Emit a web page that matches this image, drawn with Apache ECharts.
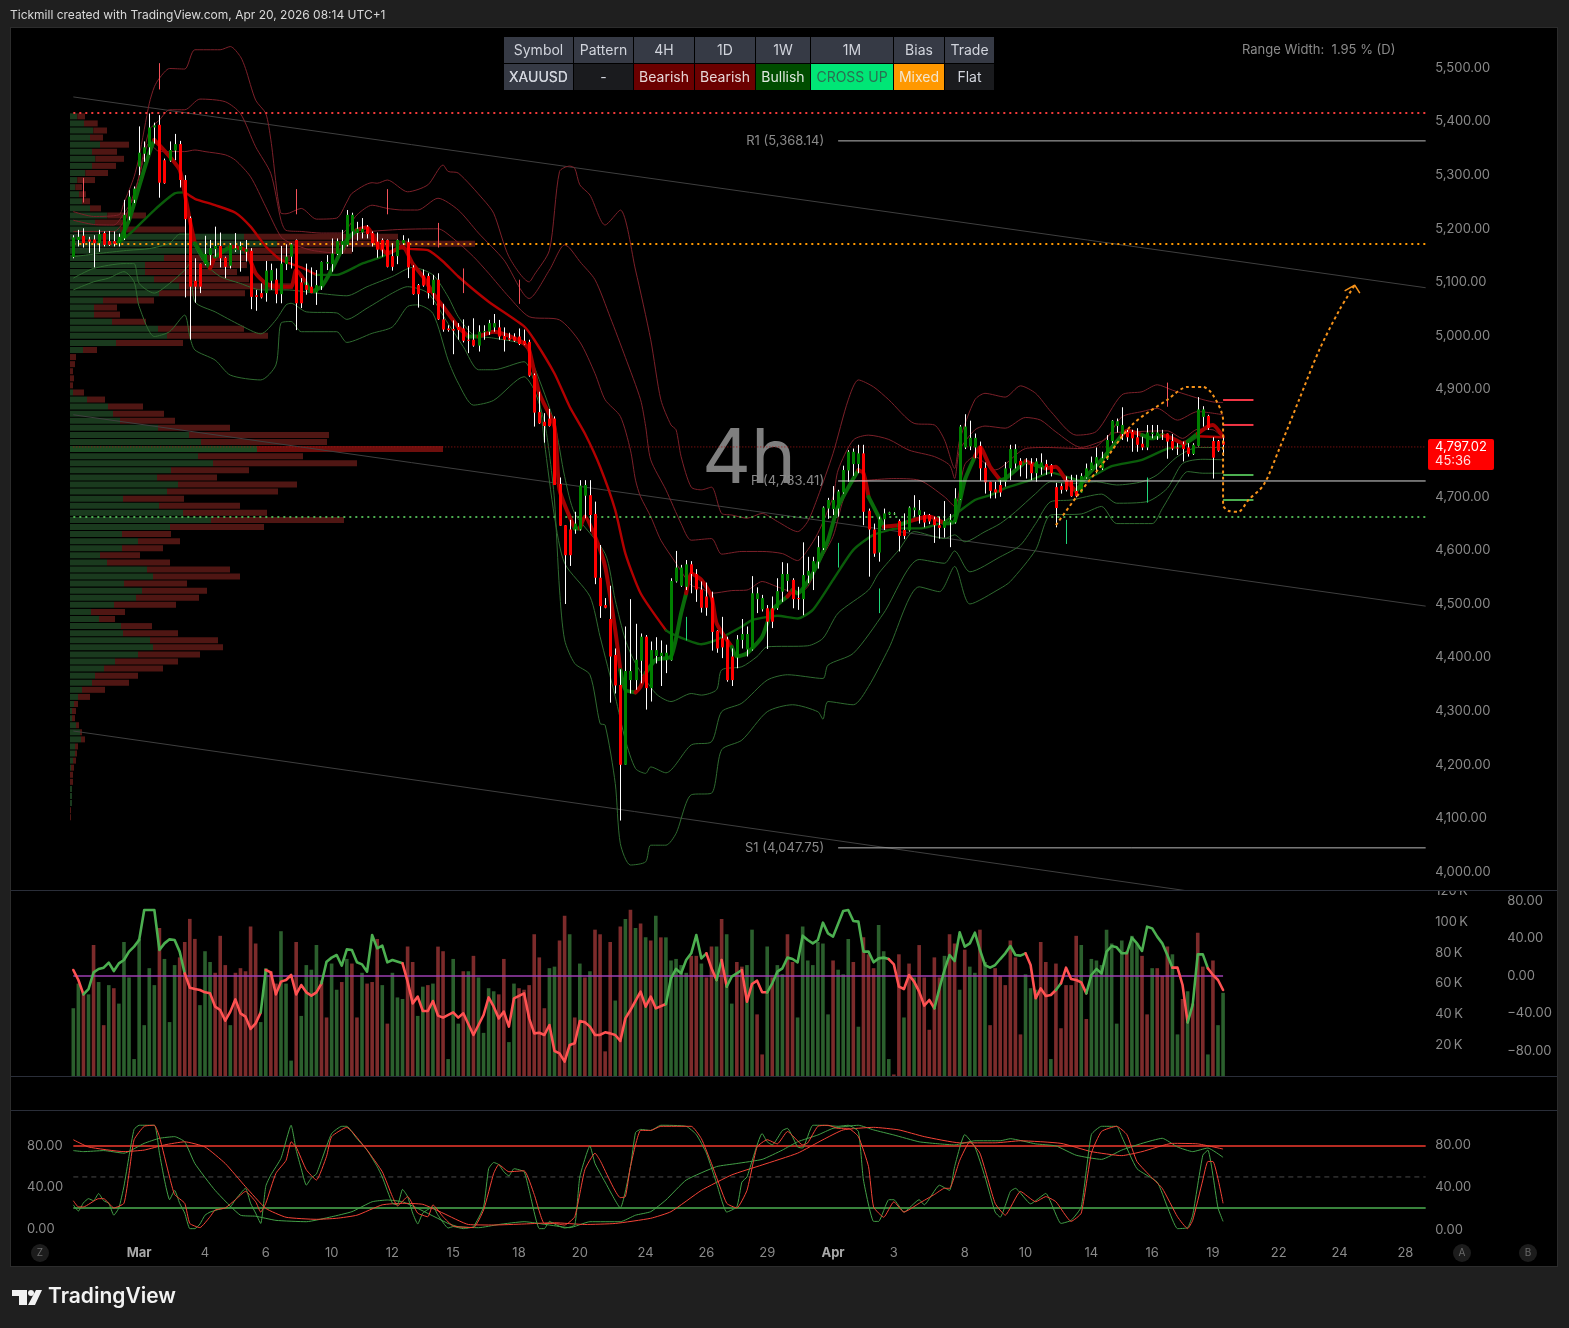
<!DOCTYPE html>
<html><head><meta charset="utf-8"><title>XAUUSD 4h</title>
<style>html,body{margin:0;padding:0;background:#1f1f1f}#c{width:1569px;height:1328px}</style>
<script src="https://cdn.jsdelivr.net/npm/echarts@6/dist/echarts.min.js"></script></head>
<body><div id="c"></div>
<script>
// ---------- candles (4h bars, oldest first) ----------
const opens=[5147,5179,5187,5180,5180,5173,5192,5177,5177,5173,
5182,5223,5254,5316,5340,5352,5389,5394,5328,5327,
5346,5358,5291,5220,5103,5135,5134,5151,5162,5168,
5146,5131,5160,5160,5157,5159,5076,5080,5080,5103,
5105,5078,5134,5148,5179,5100,5095,5092,5081,5093,
5135,5134,5153,5170,5170,5195,5192,5193,5204,5192,
5176,5179,5179,5149,5149,5173,5175,5128,5095,5113,
5112,5080,5105,5031,5014,5013,5017,5014,4993,4993,
4982,5007,5008,5016,5016,5000,4996,4999,4999,4991,
4989,4927,4858,4840,4846,4846,4724,4647,4639,4639,
4639,4702,4703,4668,4549,4498,4472,4405,4349,4200,
4358,4358,4394,4439,4343,4403,4403,4395,4395,4542,
4534,4532,4574,4556,4527,4514,4512,4450,4436,4434,
4402,4400,4433,4415,4415,4509,4490,4492,4492,4492,
4523,4543,4545,4511,4509,4553,4560,4579,4604,4678,
4677,4678,4708,4749,4761,4761,4781,4674,4639,4596,
4658,4667,4668,4655,4638,4637,4675,4666,4666,4666,
4658,4647,4642,4652,4652,4695,4792,4794,4792,4795,
4754,4728,4714,4722,4728,4753,4762,4767,4762,4762,
4744,4755,4761,4759,4718,4720,4731,4731,4711,4708,
4736,4751,4762,4753,4770,4804,4832,4817,4821,4821,
4811,4799,4792,4817,4813,4816,4818,4804,4792,4798,
4792,4780,4795,4849,4851,4804,4804,4803];
const closes=[5184,5185,5173,5176,5173,5190,5170,5170,5172,5185,
5226,5260,5275,5342,5352,5389,5393,5286,5285,5347,
5358,5291,5218,5092,5092,5092,5153,5164,5168,5145,
5129,5170,5164,5168,5162,5073,5073,5072,5122,5123,
5078,5135,5148,5171,5061,5061,5086,5080,5095,5138,
5138,5154,5177,5177,5226,5226,5200,5200,5190,5173,
5161,5161,5129,5129,5179,5179,5128,5078,5078,5094,
5080,5105,5031,5012,5011,5010,5011,4991,4991,4982,
5008,5009,5024,5024,4999,4993,4993,4991,4985,4984,
4926,4857,4837,4832,4832,4722,4646,4591,4591,4650,
4721,4722,4666,4549,4496,4493,4402,4348,4200,4375,
4375,4396,4439,4343,4414,4414,4409,4409,4543,4568,
4568,4574,4556,4527,4493,4493,4448,4417,4419,4358,
4358,4434,4444,4444,4520,4520,4511,4467,4467,4524,
4556,4556,4509,4509,4554,4562,4580,4606,4680,4694,
4694,4710,4750,4784,4784,4781,4672,4639,4594,4658,
4669,4671,4669,4627,4627,4680,4680,4675,4652,4654,
4647,4642,4655,4657,4697,4831,4831,4810,4810,4753,
4727,4711,4708,4708,4753,4789,4789,4759,4764,4744,
4766,4764,4755,4744,4679,4713,4713,4701,4701,4739,
4753,4764,4774,4772,4806,4842,4841,4834,4811,4809,
4797,4792,4820,4820,4820,4818,4803,4790,4790,4789,
4780,4797,4863,4863,4828,4773,4786,4797.02];
const highs=[5188,5198,5201,5185,5188,5198,5195,5196,5195,5191,
5254,5272,5279,5391,5363,5415,5398,5412,5331,5363,
5377,5364,5300,5223,5145,5135,5187,5179,5204,5193,
5148,5173,5192,5176,5179,5164,5086,5098,5140,5135,
5126,5168,5171,5173,5180,5108,5135,5128,5123,5139,
5151,5182,5182,5198,5235,5230,5213,5220,5207,5195,
5193,5182,5180,5173,5180,5188,5182,5132,5097,5124,
5117,5114,5117,5060,5020,5029,5024,5031,5019,5033,
5020,5020,5030,5041,5030,5016,5006,5005,5014,5012,
4993,4930,4896,4856,4864,4850,4736,4647,4657,4672,
4731,4731,4731,4691,4610,4511,4534,4417,4378,4458,
4509,4463,4445,4442,4430,4438,4432,4424,4548,4599,
4573,4582,4580,4565,4542,4540,4523,4451,4476,4439,
4417,4442,4472,4458,4552,4531,4517,4498,4514,4548,
4578,4576,4548,4532,4615,4588,4588,4627,4682,4698,
4720,4713,4758,4787,4790,4797,4797,4678,4650,4663,
4678,4672,4671,4658,4669,4682,4703,4694,4672,4668,
4663,4663,4692,4668,4716,4834,4854,4842,4818,4803,
4764,4728,4728,4731,4765,4797,4798,4772,4772,4772,
4772,4781,4769,4761,4726,4725,4738,4741,4741,4744,
4762,4775,4792,4784,4815,4843,4846,4867,4825,4825,
4828,4812,4834,4834,4834,4825,4818,4817,4800,4803,
4800,4800,4886,4869,4853,4811,4806,4811];
const lows=[5145,5167,5165,5155,5128,5157,5167,5168,5167,5167,
5179,5216,5248,5300,5325,5338,5359,5258,5284,5325,
5328,5277,5072,4993,5062,5080,5132,5132,5148,5128,
5108,5126,5157,5120,5139,5050,5047,5070,5064,5086,
5061,5061,5123,5126,5011,5052,5077,5080,5058,5086,
5123,5120,5151,5153,5167,5157,5178,5182,5182,5167,
5146,5148,5128,5122,5134,5170,5108,5077,5053,5092,
5070,5058,5030,5008,5008,4966,4993,4988,4968,4980,
4971,4993,5002,5008,4993,4971,4991,4989,4983,4983,
4924,4831,4836,4801,4831,4722,4646,4500,4571,4631,
4637,4660,4635,4537,4474,4492,4316,4333,4096,4200,
4333,4340,4352,4303,4318,4389,4347,4371,4394,4540,
4532,4526,4520,4504,4484,4478,4413,4409,4399,4355,
4347,4380,4417,4402,4413,4483,4486,4416,4455,4489,
4504,4523,4492,4489,4479,4539,4526,4566,4601,4659,
4666,4663,4706,4728,4739,4744,4647,4551,4588,4579,
4638,4666,4666,4598,4621,4635,4663,4650,4643,4649,
4614,4622,4624,4606,4650,4694,4789,4787,4772,4730,
4706,4697,4697,4700,4719,4731,4753,4738,4734,4731,
4728,4741,4741,4738,4643,4706,4710,4700,4699,4708,
4734,4750,4744,4750,4769,4800,4820,4806,4803,4784,
4784,4787,4787,4809,4806,4806,4771,4787,4778,4766,
4775,4778,4794,4831,4825,4734,4784,4776];

// ---------- bands: [bar, price] ----------
const upper3=[[0,5232],[4,5223],[9,5226],[10,5248],[12,5297],[13,5335],[15,5434],[16,5465],[17,5481],[19,5499],[22,5498],[24,5534],[29,5534],[31,5540],[33,5521],[34,5499],[36,5440],[38,5415],[39,5366],[41,5229],[42,5228],[45,5238],[48,5218],[52,5220],[54,5250],[55,5266],[59,5286],[60,5285],[62,5291],[66,5269],[70,5282],[73,5319],[74,5307],[76,5304],[81,5254],[83,5229],[86,5148],[90,5101],[91,5114],[94,5160],[96,5307],[98,5317],[99,5313],[100,5282],[102,5263],[105,5207],[108,5235],[111,5123],[114,4993],[116,4881],[118,4834],[119,4825],[120,4775],[122,4718],[124,4713],[126,4718],[128,4669],[130,4666],[133,4660],[136,4669],[139,4654],[143,4635],[145,4654],[147,4700],[150,4781],[153,4881],[155,4918],[158,4905],[161,4881],[166,4837],[170,4834],[172,4806],[174,4753],[175,4806],[178,4881],[180,4893],[184,4886],[187,4907],[190,4893],[193,4859],[198,4815],[202,4822],[207,4890],[211,4896],[214,4909],[217,4899],[222,4884],[225,4877],[227,4876]];
const upper2=[[0,5216],[4,5208],[8,5207],[10,5229],[12,5260],[15,5384],[17,5403],[19,5422],[22,5422],[25,5442],[30,5437],[33,5415],[36,5353],[39,5303],[41,5216],[42,5197],[45,5195],[49,5192],[53,5192],[56,5226],[59,5244],[62,5238],[65,5235],[68,5235],[72,5257],[76,5235],[80,5192],[85,5142],[90,5070],[94,5123],[97,5170],[98,5164],[100,5139],[103,5105],[106,5035],[109,4960],[112,4881],[113,4831],[114,4769],[117,4713],[120,4650],[122,4619],[126,4622],[128,4593],[132,4598],[136,4598],[140,4594],[143,4581],[145,4601],[147,4632],[150,4700],[151,4750],[154,4806],[157,4815],[161,4807],[165,4787],[170,4775],[173,4759],[174,4734],[175,4787],[178,4825],[180,4832],[184,4828],[188,4848],[191,4843],[194,4821],[199,4792],[202,4800],[204,4809],[207,4849],[211,4859],[214,4865],[218,4843],[222,4859],[227,4853]];
const upper1=[[0,5195],[8,5195],[10,5215],[13,5297],[15,5360],[17,5344],[22,5344],[24,5347],[26,5344],[30,5338],[32,5328],[35,5297],[38,5241],[41,5185],[43,5173],[47,5160],[53,5154],[55,5188],[63,5198],[72,5200],[75,5182],[79,5148],[82,5117],[86,5073],[90,5036],[96,5030],[100,4989],[103,4930],[105,4881],[108,4850],[110,4787],[111,4731],[112,4700],[114,4663],[116,4619],[119,4576],[122,4535],[124,4529],[126,4520],[130,4525],[133,4526],[136,4542],[139,4532],[143,4520],[145,4532],[147,4573],[150,4626],[152,4694],[154,4728],[157,4731],[162,4734],[167,4731],[172,4700],[174,4682],[176,4760],[178,4775],[182,4750],[188,4790],[192,4792],[199,4790],[202,4794],[205,4818],[211,4822],[216,4823],[219,4809],[222,4826],[225,4825],[227,4809]];
const lower1=[[0,5148],[6,5155],[11,5160],[15,5163],[19,5173],[21,5190],[23,5190],[24,5167],[26,5135],[29,5111],[33,5098],[37,5086],[42,5086],[48,5080],[54,5075],[58,5092],[63,5111],[67,5128],[71,5114],[74,5073],[76,5036],[79,5002],[83,4996],[89,4983],[91,4943],[95,4837],[97,4738],[99,4669],[105,4594],[107,4507],[109,4433],[111,4389],[115,4333],[118,4318],[122,4333],[124,4330],[127,4340],[128,4377],[132,4383],[135,4402],[137,4420],[145,4422],[148,4436],[151,4483],[157,4526],[159,4557],[163,4601],[166,4635],[172,4622],[174,4629],[176,4616],[180,4635],[183,4650],[186,4672],[190,4706],[193,4728],[197,4725],[202,4728],[206,4722],[211,4728],[214,4741],[218,4775],[222,4792],[227,4792]];
const lower2=[[0,5108],[4,5126],[10,5135],[12,5135],[13,5098],[16,5080],[19,5098],[22,5123],[23,5135],[24,5064],[28,5045],[33,5020],[37,5004],[40,5030],[42,5058],[43,5061],[46,5045],[52,5043],[54,5031],[58,5052],[63,5080],[66,5092],[70,5080],[74,5023],[77,4980],[80,4937],[83,4937],[89,4952],[91,4915],[92,4881],[93,4803],[95,4663],[97,4576],[102,4514],[104,4439],[107,4327],[109,4246],[111,4193],[113,4184],[114,4196],[117,4185],[122,4237],[126,4243],[128,4299],[132,4315],[137,4358],[141,4368],[148,4361],[149,4386],[154,4408],[160,4483],[167,4583],[172,4576],[174,4599],[177,4560],[183,4588],[187,4610],[190,4650],[193,4691],[197,4694],[203,4705],[206,4688],[212,4691],[216,4716],[219,4762],[223,4770],[227,4769]];
const lower3=[[0,5086],[4,5101],[7,5108],[10,5120],[12,5101],[13,5055],[16,4999],[19,5008],[22,5039],[23,4999],[24,4974],[28,4955],[31,4927],[37,4918],[40,4946],[41,5024],[43,5027],[45,5008],[52,5008],[54,4988],[59,5005],[63,5017],[66,5055],[68,5058],[71,5042],[74,4955],[76,4912],[79,4871],[83,4880],[89,4924],[91,4899],[93,4840],[94,4780],[95,4694],[96,4526],[97,4433],[99,4389],[102,4368],[104,4277],[105,4274],[107,4165],[108,4053],[110,4013],[113,4019],[114,4050],[117,4050],[119,4072],[122,4144],[126,4147],[128,4228],[132,4246],[137,4299],[142,4312],[147,4299],[148,4285],[149,4318],[154,4312],[157,4346],[161,4417],[167,4532],[171,4523],[174,4570],[177,4500],[183,4529],[185,4542],[190,4601],[193,4666],[199,4668],[203,4682],[206,4650],[213,4650],[215,4678],[218,4725],[220,4747],[223,4744],[227,4744]];

// ---------- moving averages: [bar, price, colour of the next stretch] ----------
const slowMA=[[9,5173,'g'],[12,5198,'g'],[16,5235,'g'],[20,5266,'g'],[22,5268,'r'],[24,5256,'r'],[28,5244,'r'],[32,5230,'r'],[35,5204,'r'],[38,5167,'r'],[41,5142,'r'],[45,5128,'r'],[48,5114,'g'],[52,5114,'g'],[57,5135,'g'],[61,5148,'g'],[64,5164,'r'],[67,5162,'r'],[70,5160,'r'],[73,5139,'r'],[76,5111,'r'],[82,5064,'r'],[89,5018,'r'],[91,4993,'r'],[95,4930,'r'],[98,4868,'r'],[101,4818,'r'],[104,4756,'r'],[107,4675,'r'],[109,4594,'r'],[112,4520,'r'],[117,4451,'g'],[118,4445,'g'],[124,4425,'g'],[127,4433,'g'],[132,4458,'g'],[134,4470,'g'],[139,4478,'g'],[143,4473,'g'],[146,4489,'g'],[150,4545,'g'],[154,4601,'g'],[158,4629,'g'],[163,4641,'g'],[167,4641,'g'],[172,4654,'g'],[178,4694,'g'],[181,4703,'g'],[184,4716,'g'],[189,4731,'g'],[193,4745,'g'],[197,4735,'g'],[199,4730,'g'],[205,4757,'g'],[211,4769,'g'],[216,4790,'g'],[219,4795,'g'],[222,4813,'r'],[227,4811,'r']];
const fastMA=[[9,5176,'g'],[11,5216,'g'],[13,5279,'g'],[15,5341,'g'],[16,5366,'r'],[17,5356,'r'],[19,5335,'r'],[21,5310,'r'],[22,5266,'r'],[23,5216,'r'],[24,5173,'g'],[26,5142,'g'],[27,5126,'r'],[28,5148,'g'],[31,5167,'r'],[34,5160,'r'],[36,5117,'r'],[38,5098,'r'],[40,5092,'r'],[43,5092,'r'],[44,5123,'r'],[46,5098,'g'],[47,5083,'g'],[49,5092,'g'],[51,5123,'g'],[54,5179,'g'],[56,5198,'r'],[58,5203,'r'],[60,5173,'r'],[62,5154,'r'],[65,5167,'r'],[67,5135,'r'],[69,5111,'r'],[71,5080,'r'],[73,5055,'r'],[76,5017,'r'],[78,4999,'g'],[80,4999,'r'],[83,5008,'r'],[86,5000,'r'],[89,4986,'r'],[90,4974,'r'],[92,4893,'r'],[95,4831,'r'],[96,4713,'r'],[99,4641,'g'],[100,4641,'r'],[101,4663,'r'],[103,4626,'r'],[105,4570,'r'],[107,4451,'r'],[108,4377,'g'],[109,4340,'g'],[111,4335,'r'],[112,4346,'r'],[113,4371,'g'],[115,4396,'g'],[118,4402,'g'],[120,4483,'g'],[121,4520,'r'],[122,4557,'r'],[124,4545,'r'],[126,4514,'r'],[127,4464,'r'],[130,4420,'g'],[131,4402,'g'],[133,4408,'g'],[136,4439,'g'],[138,4489,'g'],[141,4514,'r'],[142,4526,'g'],[143,4520,'g'],[146,4557,'g'],[149,4619,'g'],[151,4682,'g'],[155,4750,'r'],[156,4744,'r'],[157,4700,'g'],[159,4663,'g'],[160,4644,'r'],[163,4647,'g'],[165,4654,'r'],[169,4663,'r'],[172,4650,'g'],[174,4654,'g'],[176,4731,'g'],[178,4775,'r'],[179,4793,'r'],[181,4756,'r'],[183,4731,'g'],[184,4734,'g'],[188,4766,'r'],[190,4759,'g'],[192,4753,'r'],[194,4756,'r'],[196,4731,'r'],[198,4710,'g'],[200,4738,'g'],[203,4769,'g'],[206,4803,'g'],[207,4815,'r'],[208,4823,'r'],[211,4815,'g'],[213,4809,'g'],[215,4815,'r'],[217,4809,'r'],[219,4800,'r'],[220,4803,'g'],[222,4818,'r'],[224,4831,'r'],[225,4834,'r'],[227,4812,'r']];

// ---------- signal pins: [bar, top, bottom] ----------
const pinsRed=[[17,5509,5460],[2,5295,5249],[44,5274,5227],[62,5274,5227],[72,5211,5165],[77,5126,5080],[88,5105,5060],[216,4913,4868]];
const pinsGreen=[[121,4476,4432],[151,4614,4568],[159,4529,4483],[196,4657,4612],[212,4736,4689]];

// ---------- levels ----------
const levelR1=5364, levelP=4729.5, levelS1=4045;
const levelRedDots=5416, levelOrangeDots=5171.6, levelGreenDots=4662.3, lastPriceLine=4793;
const stubsRed=[4880.6,4834], stubsGreen=[4740.7,4694];
const trendA=[[0,5446],[267,5090]], trendB=[[0,4853],[267,4496]], trendC=[[0,4263],[267,3901]];
const projection=[[194,4647],[198,4699],[203,4759],[209,4834],[216,4881],[220,4905],[223,4905],[225,4890],[227,4843],[227,4787],[227,4731],[227,4685],[228,4674],[230,4672],[232,4694],[235,4722],[238,4787],[242,4881],[246,4974],[250,5049],[253,5095]];
const arrowHead=[[251,5084],[253,5095],[254,5080]];

// ---------- volume profile rows, top to bottom ----------
const profileGreen=[7.3,14,23.3,20,30,22,25.3,22,15.3,7.3,5.3,9,12,20,37.3,25,50,174,207,177,94,75,75,84,109,89,33,24,24,42,88,97,46,13,0,0,0,0,0,3,17,38,43,50,88,119,131,187,128,143,101,87,108,97,53,89,113,141,100,52,68,52,30,37,77,83,54,72,66,44,21,29,51,53,80,83,68,45,34,25,22,12,8,4,2,2,6,10,11,5,5,3,1,0,0,2,2,2,0,0];
const profileRed=[7.7,13.7,13.7,13,29,25,28.7,24,22.7,17.7,6.7,7,8,11,38.7,28,65,154,198,105,126,102,92,95,114,86,51,23,26,34,86,101,67,14,6,5,3,4,3,11,18,35,51,55,72,140,126,186,105,144,78,60,119,111,61,81,84,133,94,49,42,41,40,63,83,87,63,65,63,62,34,16,31,55,68,70,62,63,59,43,37,23,12,4,4,3,3,2,4,3,2,3,3,3,3,0,0,0,1,1];
const profilePoc=47;

// ---------- volume, thousands ----------
const volumes=[44,60,54,53,85,61,33,59,57,47,87,64,11,89,33,70,59,96,76,35,72,77,87,102,89,46,81,74,67,91,72,33,67,70,68,97,86,35,70,68,60,94,60,10,87,39,72,69,85,62,38,73,56,61,76,73,38,67,60,61,89,59,34,67,51,50,84,74,39,58,59,60,84,81,11,76,34,68,68,78,64,28,57,55,53,76,22,60,57,56,59,92,77,44,70,71,88,104,92,38,73,64,68,95,92,16,87,49,97,102,108,96,99,90,88,104,90,90,75,76,72,67,78,78,73,64,84,84,102,92,47,74,71,72,95,40,14,84,64,72,
66,92,74,38,97,75,72,87,86,40,75,69,66,89,74,32,90,79,70,98,81,11,1,79,38,73,64,85,64,30,77,64,78,92,86,56,82,71,67,95,74,33,70,65,59,88,77,27,66,57,56,87,74,11,73,31,59,59,91,85,37,76,75,72,95,86,34,88,81,91,86,78,40,70,70,65,84,79,27,50,55,47,93,71,14,75,33,54];
const volumeDir='GGRGRGRGRGGGGGGGGRGGGRRRRGGGRRRGRRRRRGGRRGGGRGGGGRRGGRGRRGRRRGRGGGRRGGRGRRGGGRGRGGGGRRGGRRRRRRGGRRGRGRGRRRRGRGRGRGRGRGGGGGRRGRRGRGGRRGGRRGRG'+'GRRGGGGGGGRGGGRGRRRGGGRRGRGRRRRRGRRGRGGRGRRRRRRRGGGRRGRRRRRGRGGGGGGGRGGRRGRRRGGRGRRRGRGGRRGRG';

// ---------- momentum oscillator: [bar, value, colour] ----------
const momentum=[[0,6.4,'r'],[1,-4.3,'r'],[2,-19.6,'g'],[3,-13.9,'g'],[4,3.9,'g'],[5,7.5,'g'],[6,8.9,'g'],[7,14.2,'g'],[8,5.3,'g'],[9,13.5,'g'],[10,17.1,'g'],[11,26,'g'],[12,31.3,'g'],[13,38.4,'g'],[14,70.4,'g'],[16,70.4,'g'],[17,27.7,'g'],[18,34.8,'g'],[19,39.1,'g'],[20,38.4,'g'],[21,26,'g'],[22,2.8,'r'],[23,-12.5,'r'],[24,-13.9,'r'],[25,-14.9,'r'],[26,-17.4,'r'],[27,-18.5,'r'],[28,-32.7,'r'],[29,-36.3,'r'],[30,-47.7,'r'],[31,-38,'r'],[32,-24.9,'r'],[33,-39.8,'r'],[34,-43.4,'r'],[35,-56.5,'r'],[36,-50.5,'r'],[37,-38.8,'g'],[38,6.4,'r'],[39,3.9,'r'],[40,-19.6,'r'],[41,-6,'r'],[42,-4.3,'r'],[43,1.1,'r'],[44,-19.6,'r'],[45,-9.6,'r'],[46,-17.4,'r'],[47,-21,'r'],[48,-17.4,'r'],[49,-7.8,'g'],[50,15.3,'g'],[51,19.6,'g'],[52,22.4,'g'],[53,11,'g'],[54,28.4,'g'],[55,27.7,'g'],[56,14.6,'g'],[57,12.4,'g'],[58,4.6,'g'],[59,43.7,'g'],[60,29.5,'g'],[61,32.3,'g'],[62,14.6,'g'],[63,17.1,'g'],[65,13.5,'r'],[66,-6,'r'],[67,-29.2,'r'],[68,-22,'r'],[69,-37.3,'r'],[70,-37.3,'r'],[71,-26.7,'r'],[72,-42.3,'r'],[73,-44.4,'r'],[75,-38.8,'r'],[76,-44.4,'r'],[77,-39.8,'r'],[79,-62.9,'r'],[81,-41.6,'r'],[82,-22.8,'r'],[83,-32.7,'r'],[84,-45.2,'r'],[85,-38,'r'],[86,-54,'r'],[87,-23.8,'r'],[89,-18.5,'r'],[90,-45.2,'r'],[91,-61.2,'r'],[92,-60.5,'r'],[93,-62.9,'r'],[94,-52.3,'r'],[95,-80,'r'],[96,-82.5,'r'],[97,-91.4,'r'],[98,-73.6,'r'],[99,-71.8,'r'],[100,-48,'r'],[101,-49.4,'r'],[102,-54,'r'],[103,-62.9,'r'],[104,-62.9,'r'],[105,-60.1,'r'],[106,-61.2,'r'],[107,-62.9,'r'],[108,-69.3,'r'],[109,-45.2,'r'],[110,-36.3,'r'],[112,-16.7,'r'],[113,-32.7,'r'],[114,-22,'r'],[115,-34.5,'r'],[117,-29.9,'g'],[118,-2.5,'g'],[119,7.5,'g'],[120,2.8,'g'],[121,17.1,'g'],[122,24.2,'g'],[123,43.7,'g'],[124,18.8,'g'],[125,24.2,'r'],[126,8.2,'r'],[127,-4.3,'g'],[128,17.1,'r'],[129,-11.4,'g'],[130,-0.7,'g'],[132,6.4,'r'],[133,-27.4,'r'],[134,-8.5,'r'],[135,-5,'r'],[136,-17.4,'r'],[137,-17.4,'g'],[138,-7.8,'g'],[139,4.6,'g'],[140,8.2,'g'],[141,19.6,'g'],[142,18.1,'g'],[143,14.6,'g'],[144,43,'g'],[145,38.4,'g'],[146,34.8,'g'],[147,38.4,'g'],[148,56.9,'g'],[149,45.5,'g'],[150,42,'g'],[152,69.3,'g'],[153,70.4,'g'],[154,58.7,'g'],[155,58,'g'],[156,26,'g'],[157,26,'g'],[158,14.6,'g'],[159,18.8,'g'],[160,19.6,'g'],[161,18.1,'r'],[162,12.4,'r'],[163,-11.4,'r'],[164,-13.9,'r'],[165,1.1,'r'],[166,-6,'r'],[167,-16.7,'r'],[168,-31.6,'r'],[169,-25.6,'r'],[170,-34.5,'g'],[171,-13.2,'g'],[172,6.4,'g'],[173,22.4,'g'],[174,16,'g'],[175,46.6,'g'],[176,31.3,'g'],[177,34.8,'g'],[178,46.2,'g'],[179,27.7,'g'],[180,11.7,'g'],[181,8.9,'g'],[182,11.7,'g'],[183,18.1,'g'],[184,24.2,'g'],[185,32,'g'],[186,22.4,'g'],[187,21.7,'g'],[188,24.2,'r'],[189,11.7,'r'],[190,-23.8,'r'],[191,-13.2,'r'],[192,-21.3,'r'],[193,-20.3,'r'],[194,-14.9,'g'],[195,-7.8,'r'],[196,8.9,'r'],[197,-3.2,'r'],[198,-4.3,'r'],[199,-6.8,'r'],[200,-18.5,'g'],[201,1.1,'g'],[202,7.5,'g'],[203,2.8,'g'],[204,26,'g'],[205,32,'g'],[206,30.6,'g'],[207,24.2,'g'],[208,24.2,'g'],[209,40.9,'g'],[210,34.8,'g'],[211,26.7,'g'],[212,52.6,'g'],[213,50.8,'g'],[214,42,'g'],[215,34.8,'g'],[216,22.4,'g'],[217,8.9,'r'],[218,8.9,'r'],[219,-9.6,'r'],[220,-49.4,'g'],[221,-30.9,'g'],[222,23.1,'g'],[223,23.1,'g'],[224,8.2,'r'],[225,1.1,'r'],[226,-4.3,'r'],[227,-14.9,'r']];
const momentumZero=0;

// ---------- stochastic RSI: [bar, value] ----------
const stochGreen=[[0,23],[1,17],[2,25],[3,29],[4,27],[5,34],[6,27],[7,24.5],[8,13],[9,20],[10,41],[11,70],[12,96],[13,100],[16,100],[17,73],[18,47],[19,28],[20,37],[21,24.5],[22,15],[23,0],[24,0],[25,4.5],[26,13],[27,16],[29,19],[31,21],[32,28],[34,39],[35,24.5],[36,15],[37,5],[38,41],[39,52],[41,68],[43,100],[44,76],[45,58],[46,42],[47,49],[48,53],[49,66],[51,92],[53,99],[54,99],[56,87],[58,76],[60,60],[61,50],[63,24.5],[64,23],[65,38],[66,31],[67,15],[68,4.5],[69,15],[71,21],[72,13],[74,0.6],[75,2],[77,0],[79,2],[81,21],[82,58],[83,64],[84,62],[85,55],[86,51],[87,58],[89,55],[90,37],[92,0],[93,0],[94,7],[95,4.5],[97,0.6],[99,3.5],[100,50],[102,80],[103,63],[105,45],[108,20],[110,60],[111,93],[112,96],[114,95],[116,100],[121,99],[123,91],[125,73],[127,44],[129,16],[131,21],[132,45],[133,50],[136,92],[137,84],[138,81],[140,95],[141,97],[143,79],[144,78],[146,100],[148,100],[151,99],[153,100],[155,94],[156,47],[158,7],[159,7],[161,28],[162,28],[164,16],[167,28],[168,23],[171,42],[173,37],[174,60],[176,91],[178,79],[180,50],[182,16],[183,11],[185,36],[186,39],[189,24],[192,34],[195,5],[197,8],[199,21],[201,91],[203,99],[206,99],[207,89],[210,58],[214,45],[216,21],[218,0],[220,1],[221,13],[223,71],[224,76],[226,20],[227,7]];
const stochRed=[[0,27],[1,21],[2,21],[5,29],[6,29],[8,20],[10,24.5],[11,53.5],[12,86],[14,99],[16,100],[17,89],[19,50],[20,33],[22,24.5],[23,5],[25,1],[27,11.5],[28,18],[30,20],[32,28],[34,36],[36,26],[37,16],[38,24.5],[40,53.5],[42,66],[43,84],[44,79],[46,57],[48,47],[50,70],[51,89],[54,98],[55,94],[58,76],[61,55],[63,31],[64,22],[66,31],[68,15],[70,11.5],[71,23],[73,11.5],[75,2.5],[79,1],[81,18],[83,53.5],[84,62],[86,55],[89,56],[91,33],[93,5],[95,5],[97,3.5],[99,11.5],[101,57],[103,73],[104,66],[108,30],[109,31],[110,60],[112,95],[114,95],[116,99],[122,99],[124,87],[126,63],[129,24.5],[131,20],[133,37],[135,79],[137,86],[139,82],[141,94],[144,81],[145,83],[147,99],[149,100],[151,97],[153,97],[155,89],[157,60],[158,21],[160,11],[162,26],[164,16],[167,24.5],[170,33],[172,39],[173,39],[175,66],[177,84],[179,73],[182,24.5],[184,13],[187,36],[190,26],[192,31],[194,26],[197,7],[199,15],[201,73],[203,94],[206,99],[208,91],[210,65],[213,49],[215,39],[218,11.5],[220,0],[221,8],[223,47],[224,65],[225,65],[227,24.5]];
const stochSlowGreen=[[0,75.5],[2,74.5],[6,75.5],[10,73],[14,82.5],[17,87.4],[20,89],[22,84],[24,63],[28,37],[33,13],[36,12],[40,8],[46,6.7],[51,11.5],[55,16.4],[59,26],[62,27.7],[65,26],[68,19.6],[74,5],[76,1.9],[80,0.9],[84,4],[89,6.7],[94,3.5],[98,0.9],[102,6.7],[108,6.7],[111,13],[114,16.4],[117,27.7],[121,47],[127,60],[131,63],[136,67],[140,76],[143,84],[147,90.6],[150,97],[155,100],[158,95.5],[162,90.6],[167,84],[171,82],[174,81],[178,85],[183,85],[185,87],[190,82],[194,80],[198,71],[203,67],[207,76],[211,82.5],[215,87.4],[218,79],[221,74.5],[224,78],[227,69]];
const stochSlowRed=[[0,86],[3,79],[10,74.5],[14,76],[18,81],[22,84],[26,79],[30,63],[34,40.6],[38,19.6],[42,11],[48,9],[52,10],[56,13],[61,23],[65,24.5],[69,23.5],[73,15],[78,4],[83,3.5],[89,4.5],[95,5.7],[101,4],[107,5],[114,10],[118,16.4],[124,37],[130,52],[136,61.6],[143,73],[148,86],[152,95.5],[158,98],[163,95.5],[168,89],[175,83],[182,83],[187,85],[195,82.5],[201,74.5],[207,70.6],[211,74.5],[217,82.5],[222,82],[227,77]];
const stochLevels=[80,50,20];

// ---------- ticks and labels ----------
const priceTicks=[4000,4100,4200,4300,4400,4500,4600,4700,4800,4900,5000,5100,5200,5300,5400,5500].filter(v=>v!==4800);
const volumeTicks=[20,40,60,80,100,120];
const momentumTicks=[-80,-40,0,40,80];
const stochTicks=[0,40,80];
const timeLabels={13:'Mar',26:'4',38:'6',51:'10',63:'12',75:'15',88:'18',100:'20',113:'24',125:'26',137:'29',150:'Apr',162:'3',176:'8',188:'10',201:'14',213:'16',225:'19',238:'22',250:'24',263:'28'};
const tableHead=['Symbol','Pattern','4H','1D','1W','1M','Bias','Trade'];
const tableRow=['XAUUSD','-','Bearish','Bearish','Bullish','CROSS UP','Mixed','Flat'];

// ---------- layout ----------
const PAD=12, SLOTS=280, BAR=5.065, FONT='Inter, "Noto Sans", sans-serif';
const categories=Array.from({length:SLOTS},(_,c)=>timeLabels[c-PAD]||'');
const gridBox=(top,h)=>({left:10,top,width:BAR*SLOTS,height:h});
const cols={red:'#ff0000',green:'#008000',axis:'#8a8a8a'};
const at=p=>[p[0]+PAD,p[1]];

const series=[];
// volume profile
series.push({type:'bar',xAxisIndex:3,yAxisIndex:5,stack:'p',barWidth:6,silent:true,z:1,data:profileGreen.map((v,k)=>({value:v,itemStyle:{color:k===profilePoc?'#1c4a22':'#1a3a1e'}}))});
series.push({type:'bar',xAxisIndex:3,yAxisIndex:5,stack:'p',barWidth:6,silent:true,z:1,data:profileRed.map((v,k)=>({value:v,itemStyle:{color:k===profilePoc?'#6e0f0d':'#4f1613'}}))});

const line=(pts,color,width,extra={})=>Object.assign({type:'line',xAxisIndex:0,yAxisIndex:0,data:pts.map(at),symbol:'none',silent:true,z:2,lineStyle:{color,width},animation:false},extra);
// trend lines, levels
[trendA,trendB,trendC].forEach(t=>series.push(line(t,'#3f3f3f',1)));
[[levelRedDots,'#f23a3a'],[levelOrangeDots,'#ff9800'],[levelGreenDots,'#4caf50']].forEach(([v,c])=>
  series.push(line([[0,v],[267,v]],c,2,{lineStyle:{color:c,width:2,type:[2,4]},z:3})));
series.push(line([[0,lastPriceLine],[267,lastPriceLine]],'#a31515',1,{lineStyle:{color:'#a31515',width:1,type:[1,2]},z:3}));
// bands
[upper3,upper2,upper1].forEach(b=>series.push(line(b,'#7c2029',1,{smooth:0.25})));
[lower1,lower2,lower3].forEach(b=>series.push(line(b,'#2f6b30',1,{smooth:0.25})));
// coloured MAs
function colouredLine(pts,mapColor,width,xi,yi,z,smooth){
  for(let k=0;k<pts.length-1;){
    let e=k+1; while(e<pts.length-1&&pts[e][2]===pts[k][2])e++;
    series.push({type:'line',xAxisIndex:xi,yAxisIndex:yi,symbol:'none',silent:true,z,smooth,
      lineStyle:{color:mapColor[pts[k][2]],width,cap:'round',join:'round'},
      data:pts.slice(k,e+1).map(p=>[p[0]+PAD,p[1]])});
    k=e;
  }
}
colouredLine(slowMA,{r:'#b30000',g:'#0a5c0a'},2.4,0,0,3,0.2);
colouredLine(fastMA,{r:'#a30000',g:'#0a6a0a'},4,0,0,3,0.2);
// candles
series.push({type:'custom',xAxisIndex:0,yAxisIndex:0,z:4,silent:true,encode:{x:0,y:[1,2,3,4]},
  data:opens.map((o,i)=>[i+PAD,o,highs[i],lows[i],closes[i]]),
  renderItem(p,api){
    const c=api.value(0),o=api.value(1),h=api.value(2),l=api.value(3),cl=api.value(4);
    const x=Math.round(api.coord([c,o])[0]);
    const yo=api.coord([c,o])[1],yc=api.coord([c,cl])[1];
    const top=Math.min(yo,yc),ht=Math.max(1,Math.abs(yo-yc));
    return {type:'group',children:[
      {type:'line',shape:{x1:x+.5,x2:x+.5,y1:api.coord([c,h])[1],y2:api.coord([c,l])[1]},style:{stroke:'#ffffff',lineWidth:1}},
      {type:'rect',shape:{x:x-1,y:top,width:3,height:ht},style:{fill:cl>=o?cols.green:cols.red}}
    ]};
  }});
// pins
[[pinsRed,'#f4525a'],[pinsGreen,'#1fd67a']].forEach(([d,color])=>series.push({type:'custom',xAxisIndex:0,yAxisIndex:0,z:5,silent:true,encode:{x:0,y:[1,2]},
  data:d.map(p=>[p[0]+PAD,p[1],p[2]]),
  renderItem(p,api){const c=api.value(0),x=Math.round(api.coord([c,api.value(1)])[0]);
    return {type:'line',shape:{x1:x+.5,x2:x+.5,y1:api.coord([c,api.value(1)])[1],y2:api.coord([c,api.value(2)])[1]},style:{stroke:color,lineWidth:1}};}}));
// pivots
[[levelR1,'R1 (5,368.14)','#b9b9b9'],[levelP,'P (4,733.41)','#d9d9d9'],[levelS1,'S1 (4,047.75)','#b9b9b9']].forEach(([v,t,c])=>
  series.push({type:'line',xAxisIndex:0,yAxisIndex:0,symbol:'circle',symbolSize:0,silent:true,z:5,lineStyle:{color:c,width:1},
    data:[{value:[151+PAD,v],label:{show:true,position:'left',distance:14,formatter:t,color:'#8a8a8a',fontSize:13,fontFamily:FONT}},[267+PAD,v]]}));
// right stubs
stubsRed.forEach(v=>series.push(line([[227,v],[233,v]],'#f23645',2,{z:5})));
stubsGreen.forEach(v=>series.push(line([[227,v],[233,v]],'#4caf50',2,{z:5})));
// projection
series.push(line(projection,'#f7931a',2,{smooth:0.3,lineStyle:{color:'#f7931a',width:2,type:[3,3]},z:6}));
series.push(line(arrowHead,'#f7931a',1.5,{z:6}));

// volume
series.push({type:'bar',xAxisIndex:1,yAxisIndex:1,barWidth:3.6,silent:true,z:2,
  data:volumes.map((v,i)=>({value:[i+PAD,v],itemStyle:{color:volumeDir[i]==='G'?'#2b5f2d':'#7c2b2b'}}))});
// momentum
series.push({type:'line',xAxisIndex:1,yAxisIndex:2,symbol:'none',silent:true,z:3,lineStyle:{color:'#9c3fb0',width:1.5},data:[[PAD,momentumZero],[227+PAD,momentumZero]]});
colouredLine(momentum,{r:'#ff5252',g:'#4caf50'},2.6,1,2,4,false);
// stochastic
const st=(d,color,z)=>series.push({type:'line',xAxisIndex:2,yAxisIndex:3,symbol:'none',silent:true,z:z||3,lineStyle:{color,width:1},smooth:0.15,data:d.map(at)});
st(stochSlowGreen,'#43a047');st(stochSlowRed,'#f44336');st(stochGreen,'#43a047');st(stochRed,'#f44336');
[['#f23a2e',1.5,'solid'],['#4a4a4a',1,[5,4]],['#4caf50',1.5,'solid']].forEach(([color,width,type],k)=>
  series.push({type:'line',xAxisIndex:2,yAxisIndex:3,symbol:'none',silent:true,z:2,lineStyle:{color,width,type},data:[[PAD,stochLevels[k]],[267+PAD,stochLevels[k]]]}));

// ---------- decorations ----------
const txt=(x,y,text,fill,font,align,z)=>({type:'text',z:z||50,silent:true,style:{x,y,text,fill,font,align:align||'left',textAlign:align||'left',verticalAlign:'middle',textVerticalAlign:'middle'}});
const rect=(x,y,w,h,fill,z,r)=>({type:'rect',z:z||50,silent:true,shape:{x,y,width:w,height:h,r:r||0},style:{fill}});
const graphic=[];
graphic.push(rect(10,27,1548,1240,'#2c2c2c',-3));
graphic.push(rect(11,28,1546,1238,'#000000',-2));
graphic.push(rect(11,890,1546,1,'#2a2e39',60),rect(11,1076,1546,1,'#2a2e39',60),rect(11,1110,1546,1,'#2a2e39',60));
graphic.push(rect(1429,878,66,12,'#000000',40));
graphic.push(txt(10,15,'Tickmill created with TradingView.com, Apr 20, 2026 08:14 UTC+1','#d9d9d9','12px '+FONT));
graphic.push(txt(1242,50,'Range Width:  1.95 % (D)','#8a8a8a','13px '+FONT));
graphic.push(txt(702,460,'4h','#7f7f7f','76px '+FONT,'left',1));
// table
const colX=[504,574,634,695,756,811,894,945], colW=[69,59,60,60,54,82,50,49];
const rowFill=['#363a45','#1a1b1e','#6b0000','#6b0000','#004d00','#00e676','#ff9800','#1a1b1e'];
const rowText=['#d1d4dc','#d1d4dc','#e6d6d6','#e6d6d6','#dfe8df','#2a6f52','#f3e6cf','#d1d4dc'];
tableHead.forEach((t,k)=>{
  graphic.push(rect(colX[k],37,colW[k],26,'#363a45'));
  graphic.push(txt(colX[k]+colW[k]/2,50.5,t,'#d1d4dc','14px '+FONT,'center',51));
  graphic.push(rect(colX[k],64,colW[k],26,rowFill[k]));
  graphic.push(txt(colX[k]+colW[k]/2,77.5,tableRow[k],rowText[k],'14px '+FONT,'center',51));
});
graphic[graphic.length-15]; // keep order
graphic.push(rect(504,64,69,26,'#363a45',50));
graphic.push(txt(538.5,77.5,'XAUUSD','#d1d4dc','14px '+FONT,'center',51));
// price tag
graphic.push(rect(1428,439,66,31,'#ff0000',50,2));
graphic.push(txt(1435,447,'4,797.02','#ffffff','13px '+FONT,'left',51));
graphic.push(txt(1435,461,'45:36','#ffe0e0','13px '+FONT,'left',51));
// round buttons
[[40,'Z'],[1462,'A'],[1528,'B']].forEach(([x,t])=>{
  graphic.push({type:'circle',z:50,silent:true,shape:{cx:x,cy:1253,r:9},style:{fill:'#1c1c1c'}});
  graphic.push(txt(x,1253,t,'#6a6a6a','10px '+FONT,'center',51));
});
// brand
graphic.push(rect(12,1290,15,6,'#f2f2f2'),rect(19,1290,8,15,'#f2f2f2'));
graphic.push({type:'circle',z:50,silent:true,shape:{cx:31,cy:1293,r:3},style:{fill:'#f2f2f2'}});
graphic.push({type:'polygon',z:50,silent:true,shape:{points:[[36,1290],[42,1290],[35,1305],[28,1305]]},style:{fill:'#f2f2f2'}});
graphic.push(txt(48,1297,'TradingView','#f2f2f2','600 21px '+FONT));

const hiddenCat=(grid,extra={})=>Object.assign({type:'category',gridIndex:grid,data:categories,boundaryGap:true,axisLine:{show:false},axisTick:{show:false},axisLabel:{show:false},splitLine:{show:false}},extra);
const valueAxis=(grid,min,max,position,ticks,fmt,extra={})=>Object.assign({type:'value',gridIndex:grid,min,max,position,scale:true,
  axisLine:{show:false},axisTick:{show:false},splitLine:{show:false},
  axisLabel:{customValues:ticks,formatter:fmt,color:cols.axis,fontSize:13,fontFamily:FONT,margin:7,hideOverlap:false,showMinLabel:true,showMaxLabel:true}},extra);
const money=v=>v.toLocaleString('en-US',{minimumFractionDigits:2,maximumFractionDigits:2});

const option={
  animation:false,backgroundColor:'#1f1f1f',tooltip:{show:false},
  textStyle:{fontFamily:FONT},
  grid:[gridBox(28,862),gridBox(891,185),gridBox(1111,129),{left:70,top:112.8,width:500,height:708}],
  xAxis:[hiddenCat(0),hiddenCat(1),
    hiddenCat(2,{axisLabel:{show:true,interval:(i,v)=>v!=='',color:cols.axis,fontSize:13,fontFamily:FONT,margin:7,hideOverlap:false,
      formatter:v=>(v==='Mar'||v==='Apr')?`{b|${v}}`:v,rich:{b:{fontWeight:'bold',color:'#a8a8a8',fontSize:13,fontFamily:FONT}}}}),
    {type:'value',gridIndex:3,min:0,max:500,show:false}],
  yAxis:[
    valueAxis(0,3966.4,5574.6,'right',priceTicks,money),
    valueAxis(1,0,120.1,'right',volumeTicks,v=>v+'\u202fK'),
    valueAxis(1,-106.67,90.67,'right',momentumTicks,v=>(v<0?'\u2212':'')+Math.abs(v).toFixed(2),{offset:72}),
    valueAxis(2,-11,113.8,'left',stochTicks,v=>v.toFixed(2),{axisLabel:{customValues:stochTicks,formatter:v=>v.toFixed(2),color:cols.axis,fontSize:13,fontFamily:FONT,inside:true,margin:17}}),
    valueAxis(2,-9.4,112,'right',stochTicks,v=>v.toFixed(2)),
    {type:'category',gridIndex:3,inverse:true,show:false,data:profileGreen.map((_,k)=>k)}
  ],
  graphic:{elements:graphic},
  series
};
const chart=echarts.init(document.getElementById('c'),null,{renderer:'canvas',width:1569,height:1328});
chart.setOption(option);
</script></body></html>
